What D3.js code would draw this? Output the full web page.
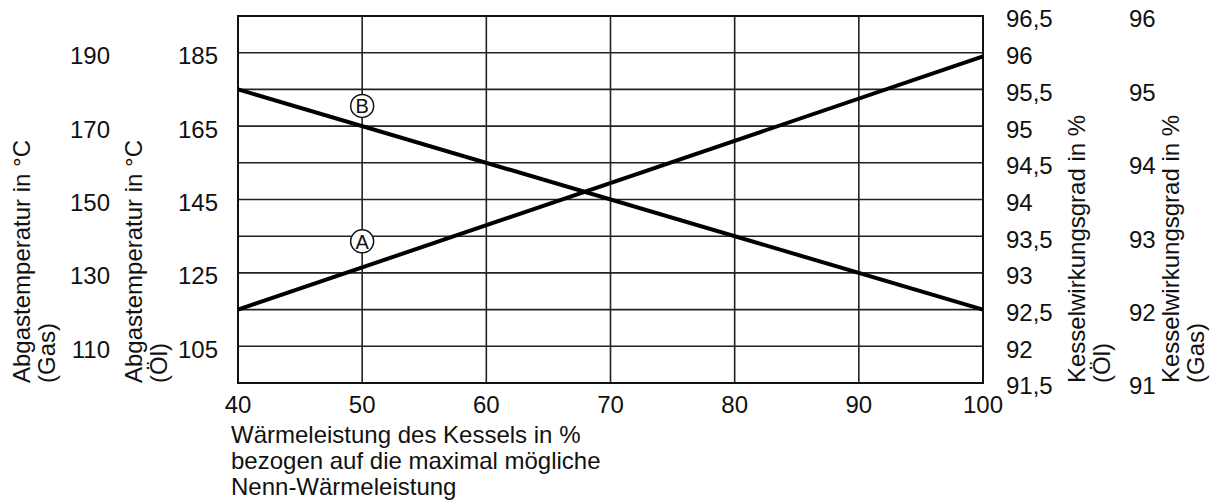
<!DOCTYPE html>
<html>
<head>
<meta charset="utf-8">
<script src="https://cdn.jsdelivr.net/npm/d3@7"></script>
<style>
  html, body { margin: 0; padding: 0; background: #fff; }
  svg text { font-family: "Liberation Sans", Arial, sans-serif; fill: #111; }
</style>
</head>
<body>
<svg id="chart" width="1214" height="500"></svg>
<script>
// Wärmeleistung (x) and the two curves
const load = [40, 100];
const effOil = [92.5, 95.95];      // curve A, Kesselwirkungsgrad (Öl)
const tempOil = [175, 115];        // curve B, Abgastemperatur (Öl)

// tick labels
const loadTicks = [40, 50, 60, 70, 80, 90, 100];
const tempGasTicks = [110, 130, 150, 170, 190];
const tempOilTicks = [105, 125, 145, 165, 185];
const effOilTicks = [91.5, 92, 92.5, 93, 93.5, 94, 94.5, 95, 95.5, 96, 96.5];
const effGasTicks = [91, 92, 93, 94, 95, 96];

// circled curve labels
const markerNames = ['A', 'B'];
const markerLoad = [50, 50];
const markerEff = [93.43, null];
const markerTemp = [null, 170.5];

const width = 1214;
const height = 500;
const plot = { left: 238, right: 983, top: 16, bottom: 383 };

const svg = d3.select('#chart');

const x = d3.scaleLinear().domain([40, 100]).range([plot.left, plot.right]);
const yTempOil = d3.scaleLinear().domain([95, 195]).range([plot.bottom, plot.top]);
const yTempGas = d3.scaleLinear().domain([100, 200]).range([plot.bottom, plot.top]);
const yEffOil = d3.scaleLinear().domain([91.5, 96.5]).range([plot.bottom, plot.top]);
const yEffGas = d3.scaleLinear().domain([91, 96]).range([plot.bottom, plot.top]);

const comma = d => String(d).replace('.', ',');

// grid
const grid = svg.append('g').attr('stroke', '#222').attr('stroke-width', 1.6);
grid.selectAll('line.v')
    .data(loadTicks)
    .join('line')
    .attr('class', 'v')
    .attr('x1', d => x(d)).attr('x2', d => x(d))
    .attr('y1', plot.top).attr('y2', plot.bottom);
grid.selectAll('line.h')
    .data(effOilTicks)
    .join('line')
    .attr('class', 'h')
    .attr('x1', plot.left).attr('x2', plot.right)
    .attr('y1', d => yEffOil(d)).attr('y2', d => yEffOil(d));

// frame
svg.append('rect')
    .attr('x', plot.left).attr('y', plot.top)
    .attr('width', plot.right - plot.left)
    .attr('height', plot.bottom - plot.top)
    .attr('fill', 'none')
    .attr('stroke', '#111')
    .attr('stroke-width', 2);

// curves
const lineEff = d3.line().x((d, i) => x(load[i])).y(d => yEffOil(d));
const lineTemp = d3.line().x((d, i) => x(load[i])).y(d => yTempOil(d));

svg.append('path').datum(effOil)
    .attr('d', lineEff)
    .attr('fill', 'none').attr('stroke', '#000').attr('stroke-width', 4);
svg.append('path').datum(tempOil)
    .attr('d', lineTemp)
    .attr('fill', 'none').attr('stroke', '#000').attr('stroke-width', 4);

// circled markers
const markers = svg.append('g')
    .selectAll('g')
    .data(markerNames)
    .join('g')
    .attr('transform', (d, i) => {
        const cy = markerEff[i] != null ? yEffOil(markerEff[i]) : yTempOil(markerTemp[i]);
        return `translate(${x(markerLoad[i])},${cy})`;
    });
markers.append('circle')
    .attr('r', 11.5)
    .attr('fill', '#fff')
    .attr('stroke', '#111')
    .attr('stroke-width', 1.5);
markers.append('text')
    .attr('text-anchor', 'middle')
    .attr('dy', '0.36em')
    .attr('font-size', 20)
    .text(d => d);

// tick labels
const fs = 24;
svg.append('g').selectAll('text')
    .data(loadTicks)
    .join('text')
    .attr('x', d => x(d))
    .attr('y', 405)
    .attr('dy', '0.35em')
    .attr('text-anchor', 'middle')
    .attr('font-size', fs)
    .text(d => d);

function vTicks(ticks, scale, xPos, anchor, fmt) {
    svg.append('g').selectAll('text')
        .data(ticks)
        .join('text')
        .attr('x', xPos)
        .attr('y', d => scale(d) + 3)
        .attr('dy', '0.35em')
        .attr('text-anchor', anchor)
        .attr('font-size', fs)
        .text(fmt);
}
vTicks(tempGasTicks, yTempGas, 110, 'end', d => d);
vTicks(tempOilTicks, yTempOil, 218, 'end', d => d);
vTicks(effOilTicks, yEffOil, 1006, 'start', comma);
vTicks(effGasTicks, yEffGas, 1129, 'start', comma);

// axis titles
const xTitle = ['Wärmeleistung des Kessels in %',
    'bezogen auf die maximal mögliche',
    'Nenn-Wärmeleistung'];
svg.append('g').selectAll('text')
    .data(xTitle)
    .join('text')
    .attr('x', 231)
    .attr('y', (d, i) => 442.5 + i * 26)
    .attr('font-size', fs)
    .text(d => d);

function vTitle(lines, xBase) {
    const g = svg.append('g');
    lines.forEach((t, i) => {
        const xx = xBase + i * 25;
        g.append('text')
            .attr('transform', `translate(${xx},${plot.bottom}) rotate(-90)`)
            .attr('font-size', fs)
            .text(t);
    });
}
vTitle(['Abgastemperatur in °C', '(Gas)'], 30);
vTitle(['Abgastemperatur in °C', '(Öl)'], 142);
vTitle(['Kesselwirkungsgrad in %', '(Öl)'], 1085);
vTitle(['Kesselwirkungsgrad in %', '(Gas)'], 1179);
</script>
</body>
</html>
